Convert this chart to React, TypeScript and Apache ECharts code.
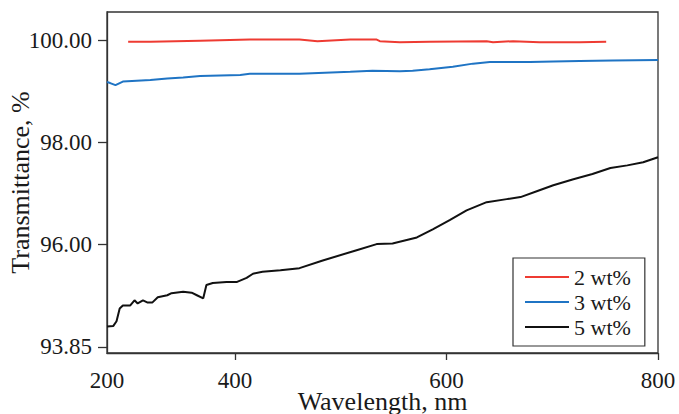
import React, { useEffect, useRef } from "react";
import * as echarts from "echarts";

// Wavelength (nm) and transmittance (%)
const wl2 = [299, 320, 367, 414, 461, 478, 509, 534, 537, 556, 584, 638, 644, 663, 688, 726, 751];
const tr2 = [99.97, 99.97, 99.99, 100.01, 100.01, 99.98, 100.01, 100.01, 99.98, 99.96, 99.97, 99.98, 99.96, 99.98, 99.96, 99.96, 99.97];

const wl3 = [279, 282, 287, 294, 320, 336, 351, 367, 405, 414, 461, 509, 530, 556, 568, 584, 606, 625, 641, 679, 701, 726, 757, 800];
const tr3 = [99.18, 99.16, 99.12, 99.19, 99.22, 99.25, 99.27, 99.30, 99.32, 99.34, 99.34, 99.38, 99.40, 99.39, 99.40, 99.43, 99.48, 99.54, 99.57, 99.57, 99.58, 99.59, 99.60, 99.61];

const wl5 = [279, 285, 288, 291, 294, 301, 305, 308, 313, 317, 322, 327, 336, 340, 351, 359, 364, 370, 373, 379, 392, 402, 411, 417, 426, 443, 461, 483, 515, 534, 549, 572, 587, 603, 619, 638, 657, 670, 686, 701, 720, 738, 755, 771, 786, 800];
const tr5 = [94.40, 94.41, 94.50, 94.75, 94.81, 94.81, 94.91, 94.85, 94.91, 94.87, 94.87, 94.97, 95.01, 95.05, 95.08, 95.06, 95.01, 94.95, 95.21, 95.25, 95.27, 95.27, 95.35, 95.43, 95.47, 95.50, 95.54, 95.69, 95.89, 96.01, 96.02, 96.14, 96.30, 96.48, 96.67, 96.83, 96.89, 96.93, 97.05, 97.16, 97.28, 97.38, 97.50, 97.55, 97.61, 97.71];

const seriesNames = ["2 wt%", "3 wt%", "5 wt%"];
const xTickValues = [400, 600, 800];
const xLabelValues = [279, 400, 600, 800];
const yTickValues = [94, 96, 98, 100];

const zip = (a: number[], b: number[]) => a.map((v, i) => [v, b[i]]);

const FONT = "Liberation Serif";
const AXIS = "#333333";
const TEXT = "#1a1a1a";

export default function App() {
  const ref = useRef<HTMLDivElement>(null);
  useEffect(() => {
    if (!ref.current) return;
    const chart = echarts.init(ref.current, undefined, { renderer: "svg" });
    const lineStyle = { color: AXIS, width: 1.3 };
    chart.setOption({
      animation: false,
      backgroundColor: "#ffffff",
      textStyle: { fontFamily: FONT, color: TEXT },
      grid: {
        left: 107,
        top: 12,
        right: 21,
        bottom: 61,
        show: true,
        borderColor: AXIS,
        borderWidth: 1.3,
        containLabel: false,
        outerBoundsMode: "none",
      },
      legend: {
        orient: "vertical",
        left: 513,
        top: 258,
        data: seriesNames,
        icon: "rect",
        backgroundColor: "#fff",
        borderColor: AXIS,
        borderWidth: 1.2,
        borderRadius: 0,
        padding: [8, 14, 8, 12],
        itemWidth: 44,
        itemHeight: 2,
        itemGap: 3,
        textStyle: { fontFamily: FONT, fontSize: 22, color: TEXT, lineHeight: 19 },
      },
      xAxis: {
        type: "value",
        min: 279,
        max: 800,
        name: "Wavelength, nm",
        nameLocation: "middle",
        nameGap: 38,
        nameMoveOverlap: false,
        nameTextStyle: { fontFamily: FONT, fontSize: 26, color: TEXT, lineHeight: 20 },
        axisLine: { show: true, lineStyle },
        axisTick: { show: true, customValues: xTickValues, length: 7, lineStyle },
        axisLabel: {
          customValues: xLabelValues,
          formatter: (v: number) => (v === 279 ? "200" : String(v)),
          margin: 18,
          fontSize: 23,
          lineHeight: 18,
          fontFamily: FONT,
          color: TEXT,
        },
        splitLine: { show: false },
      },
      yAxis: {
        type: "value",
        min: 93.88,
        max: 100.55,
        name: "Transmittance, %",
        nameLocation: "middle",
        nameGap: 74,
        nameMoveOverlap: false,
        nameTextStyle: { fontFamily: FONT, fontSize: 26, color: TEXT },
        axisLine: { show: true, lineStyle },
        axisTick: { show: true, customValues: yTickValues, length: 9, lineStyle },
        axisLabel: {
          customValues: yTickValues,
          formatter: (v: number) => (v === 94 ? "93.85" : v.toFixed(2)),
          margin: 15,
          fontSize: 23,
          fontFamily: FONT,
          color: TEXT,
        },
        splitLine: { show: false },
      },
      series: [
        {
          name: seriesNames[0],
          type: "line",
          data: zip(wl2, tr2),
          symbol: "none",
          color: "#ee3b32",
          lineStyle: { width: 2, color: "#ee3b32" },
        },
        {
          name: seriesNames[1],
          type: "line",
          data: zip(wl3, tr3),
          symbol: "none",
          color: "#1f74c4",
          lineStyle: { width: 2, color: "#1f74c4" },
        },
        {
          name: seriesNames[2],
          type: "line",
          data: zip(wl5, tr5),
          symbol: "none",
          color: "#111111",
          lineStyle: { width: 2, color: "#111111" },
        },
      ],
    });
    return () => chart.dispose();
  }, []);
  return <div ref={ref} style={{ width: 679, height: 414, position: "absolute", left: 0, top: 0 }} />;
}
